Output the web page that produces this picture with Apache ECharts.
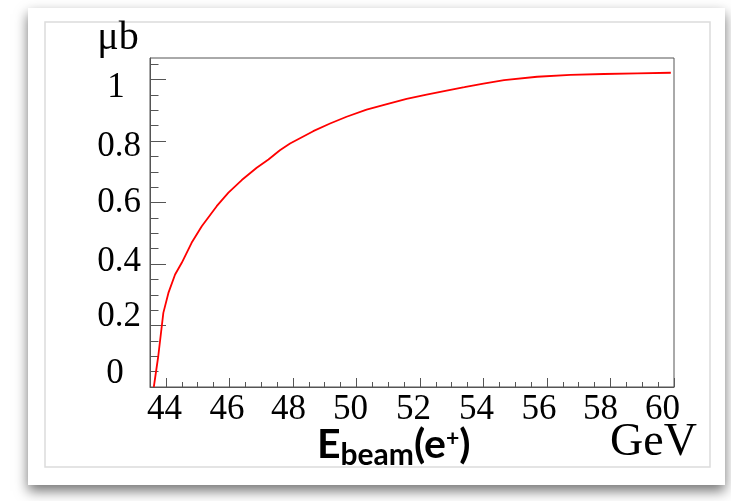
<!DOCTYPE html>
<html><head><meta charset="utf-8">
<script src="https://cdn.jsdelivr.net/npm/echarts@6/dist/echarts.min.js"></script>
<style>html,body{margin:0;padding:0;background:#fff}#c{width:731px;height:501px}</style>
</head><body><div id="c"></div>
<script>
// Beam energy (GeV) and cross section (microbarn)
const energy = [43.62, 43.76, 43.92, 44.08, 44.29, 44.50, 44.81, 45.13, 45.60, 45.97, 46.39, 46.86, 47.23, 47.59, 47.91, 48.64, 49.17, 49.69, 50.32, 50.96, 51.58, 52.21, 52.84, 53.40, 54.00, 54.65, 55.69, 56.74, 57.79, 58.84, 59.90];
const sigma = [0, 0.100, 0.241, 0.306, 0.366, 0.404, 0.469, 0.523, 0.588, 0.632, 0.673, 0.713, 0.740, 0.770, 0.792, 0.832, 0.857, 0.879, 0.902, 0.920, 0.937, 0.951, 0.964, 0.975, 0.987, 0.998, 1.009, 1.015, 1.018, 1.020, 1.022];

const xMajorTicks = [44, 46, 48, 50, 52, 54, 56, 58, 60];
const xMinorTicks = [44.5, 45, 45.5, 46.5, 47, 47.5, 48.5, 49, 49.5, 50.5, 51, 51.5, 52.5, 53, 53.5, 54.5, 55, 55.5, 56.5, 57, 57.5, 58.5, 59, 59.5];
const yMajorTicks = [0, 0.2, 0.4, 0.6, 0.8, 1];
const yMinorTicks = [0.05, 0.1, 0.15, 0.25, 0.3, 0.35, 0.45, 0.5, 0.55, 0.65, 0.7, 0.75, 0.85, 0.9, 0.95, 1.05];

const xRange = [43.5, 60];
const yRange = [0, 1.07];

// small per-label nudges (px) to mimic the reference's label placement
const xLabelShift = [1.5, 2.5, 4.5, 6, 6.5, 7, 8, 10, 11.5];
const yLabelShift = [-13, -9, -2, 0.5, 5.5, 8];
const yLabelXShift = [4, 0, 0, 0, 0, 3];

const serif = 'Liberation Serif';
const axisGray = '#555';

const xRich = {};
xMajorTicks.forEach((v, i) => {
  xRich['x' + i] = { fontFamily: serif, fontSize: 35, color: '#000', padding: [0, 2 * xLabelShift[i], 0, 0] };
});
const yRich = {};
yMajorTicks.forEach((v, i) => {
  const d = yLabelShift[i];
  yRich['y' + i] = { fontFamily: serif, fontSize: 35, color: '#000',
    padding: [d > 0 ? 2 * d : 0, 2 * yLabelXShift[i], d < 0 ? -2 * d : 0, 0] };
});

const chart = echarts.init(document.getElementById('c'), null, { renderer: 'canvas' });
chart.setOption({
  animation: false,
  backgroundColor: '#ffffff',
  grid: { left: 150, right: 57, top: 58, bottom: 114, show: true, borderColor: axisGray, borderWidth: 1, containLabel: false },
  graphic: [
    { type: 'rect', z: -10, shape: { x: 28, y: 8, width: 697, height: 477 },
      style: { fill: '#fff', shadowBlur: 12, shadowOffsetY: 6, shadowColor: 'rgba(0,0,0,0.55)' } },
    { type: 'rect', z: -9, shape: { x: 45, y: 22, width: 665, height: 445 },
      style: { fill: 'none', stroke: '#dcdcdc', lineWidth: 1.5 } },
    { type: 'text', z: 10, style: { text: 'μb', x: 118, y: 38, align: 'center', verticalAlign: 'middle',
      fontFamily: serif, fontSize: 40, fill: '#000' } },
    { type: 'text', z: 10, style: { text: 'GeV', x: 610, y: 443, align: 'left', verticalAlign: 'middle',
      fontFamily: serif, fontSize: 46, fill: '#000' } },
    { type: 'text', z: 10, style: {
      text: '{E|E}{s|beam}{p|(e}{u|+}{p|)}', x: 317, y: 445, align: 'left', verticalAlign: 'middle',
      fill: '#000',
      rich: {
        E: { fontFamily: 'Lato', fontWeight: 'bold', fontSize: 41, fill: '#000' },
        s: { fontFamily: 'Lato', fontWeight: 'bold', fontSize: 30, fill: '#000', padding: [21, 0, 0, 0] },
        p: { fontFamily: 'Lato', fontWeight: 'bold', fontSize: 41, fill: '#000' },
        u: { fontFamily: 'Lato', fontWeight: 'bold', fontSize: 23, fill: '#000', padding: [0, 0, 12, 0] }
      } } }
  ],
  xAxis: [
    { type: 'value', min: xRange[0], max: xRange[1], position: 'bottom',
      axisLine: { show: true, onZero: false, lineStyle: { color: axisGray, width: 1 } },
      axisTick: { show: true, inside: true, length: 9, customValues: xMajorTicks, lineStyle: { color: axisGray, width: 1 } },
      axisLabel: { show: true, customValues: xMajorTicks, margin: 5,
        formatter: (v) => { const i = xMajorTicks.indexOf(Math.round(v)); return '{x' + i + '|' + Math.round(v) + '}'; },
        rich: xRich },
      splitLine: { show: false } },
    { type: 'value', min: xRange[0], max: xRange[1], position: 'bottom',
      axisLine: { show: false },
      axisTick: { show: true, inside: true, length: 5, customValues: xMinorTicks, lineStyle: { color: axisGray, width: 1 } },
      axisLabel: { show: false }, splitLine: { show: false } }
  ],
  yAxis: [
    { type: 'value', min: yRange[0], max: yRange[1], position: 'left',
      axisLine: { show: true, onZero: false, lineStyle: { color: axisGray, width: 1 } },
      axisTick: { show: true, inside: true, length: 16, customValues: yMajorTicks, lineStyle: { color: axisGray, width: 1 } },
      axisLabel: { show: true, customValues: yMajorTicks, margin: 31, align: 'center',
        formatter: (v) => { const i = yMajorTicks.findIndex(t => Math.abs(t - v) < 1e-6); return '{y' + i + '|' + (Math.round(v * 10) / 10) + '}'; },
        rich: yRich },
      splitLine: { show: false } },
    { type: 'value', min: yRange[0], max: yRange[1], position: 'left', offset: 0,
      axisLine: { show: false },
      axisTick: { show: true, inside: true, length: 8.5, customValues: yMinorTicks, lineStyle: { color: axisGray, width: 1 } },
      axisLabel: { show: false }, splitLine: { show: false } }
  ],
  series: [{
    type: 'line', xAxisIndex: 0, yAxisIndex: 0,
    data: energy.map((e, i) => [e, sigma[i]]),
    showSymbol: false, smooth: false,
    lineStyle: { color: '#ff0000', width: 1.8 },
    clip: true
  }]
});
</script>
</body></html>
